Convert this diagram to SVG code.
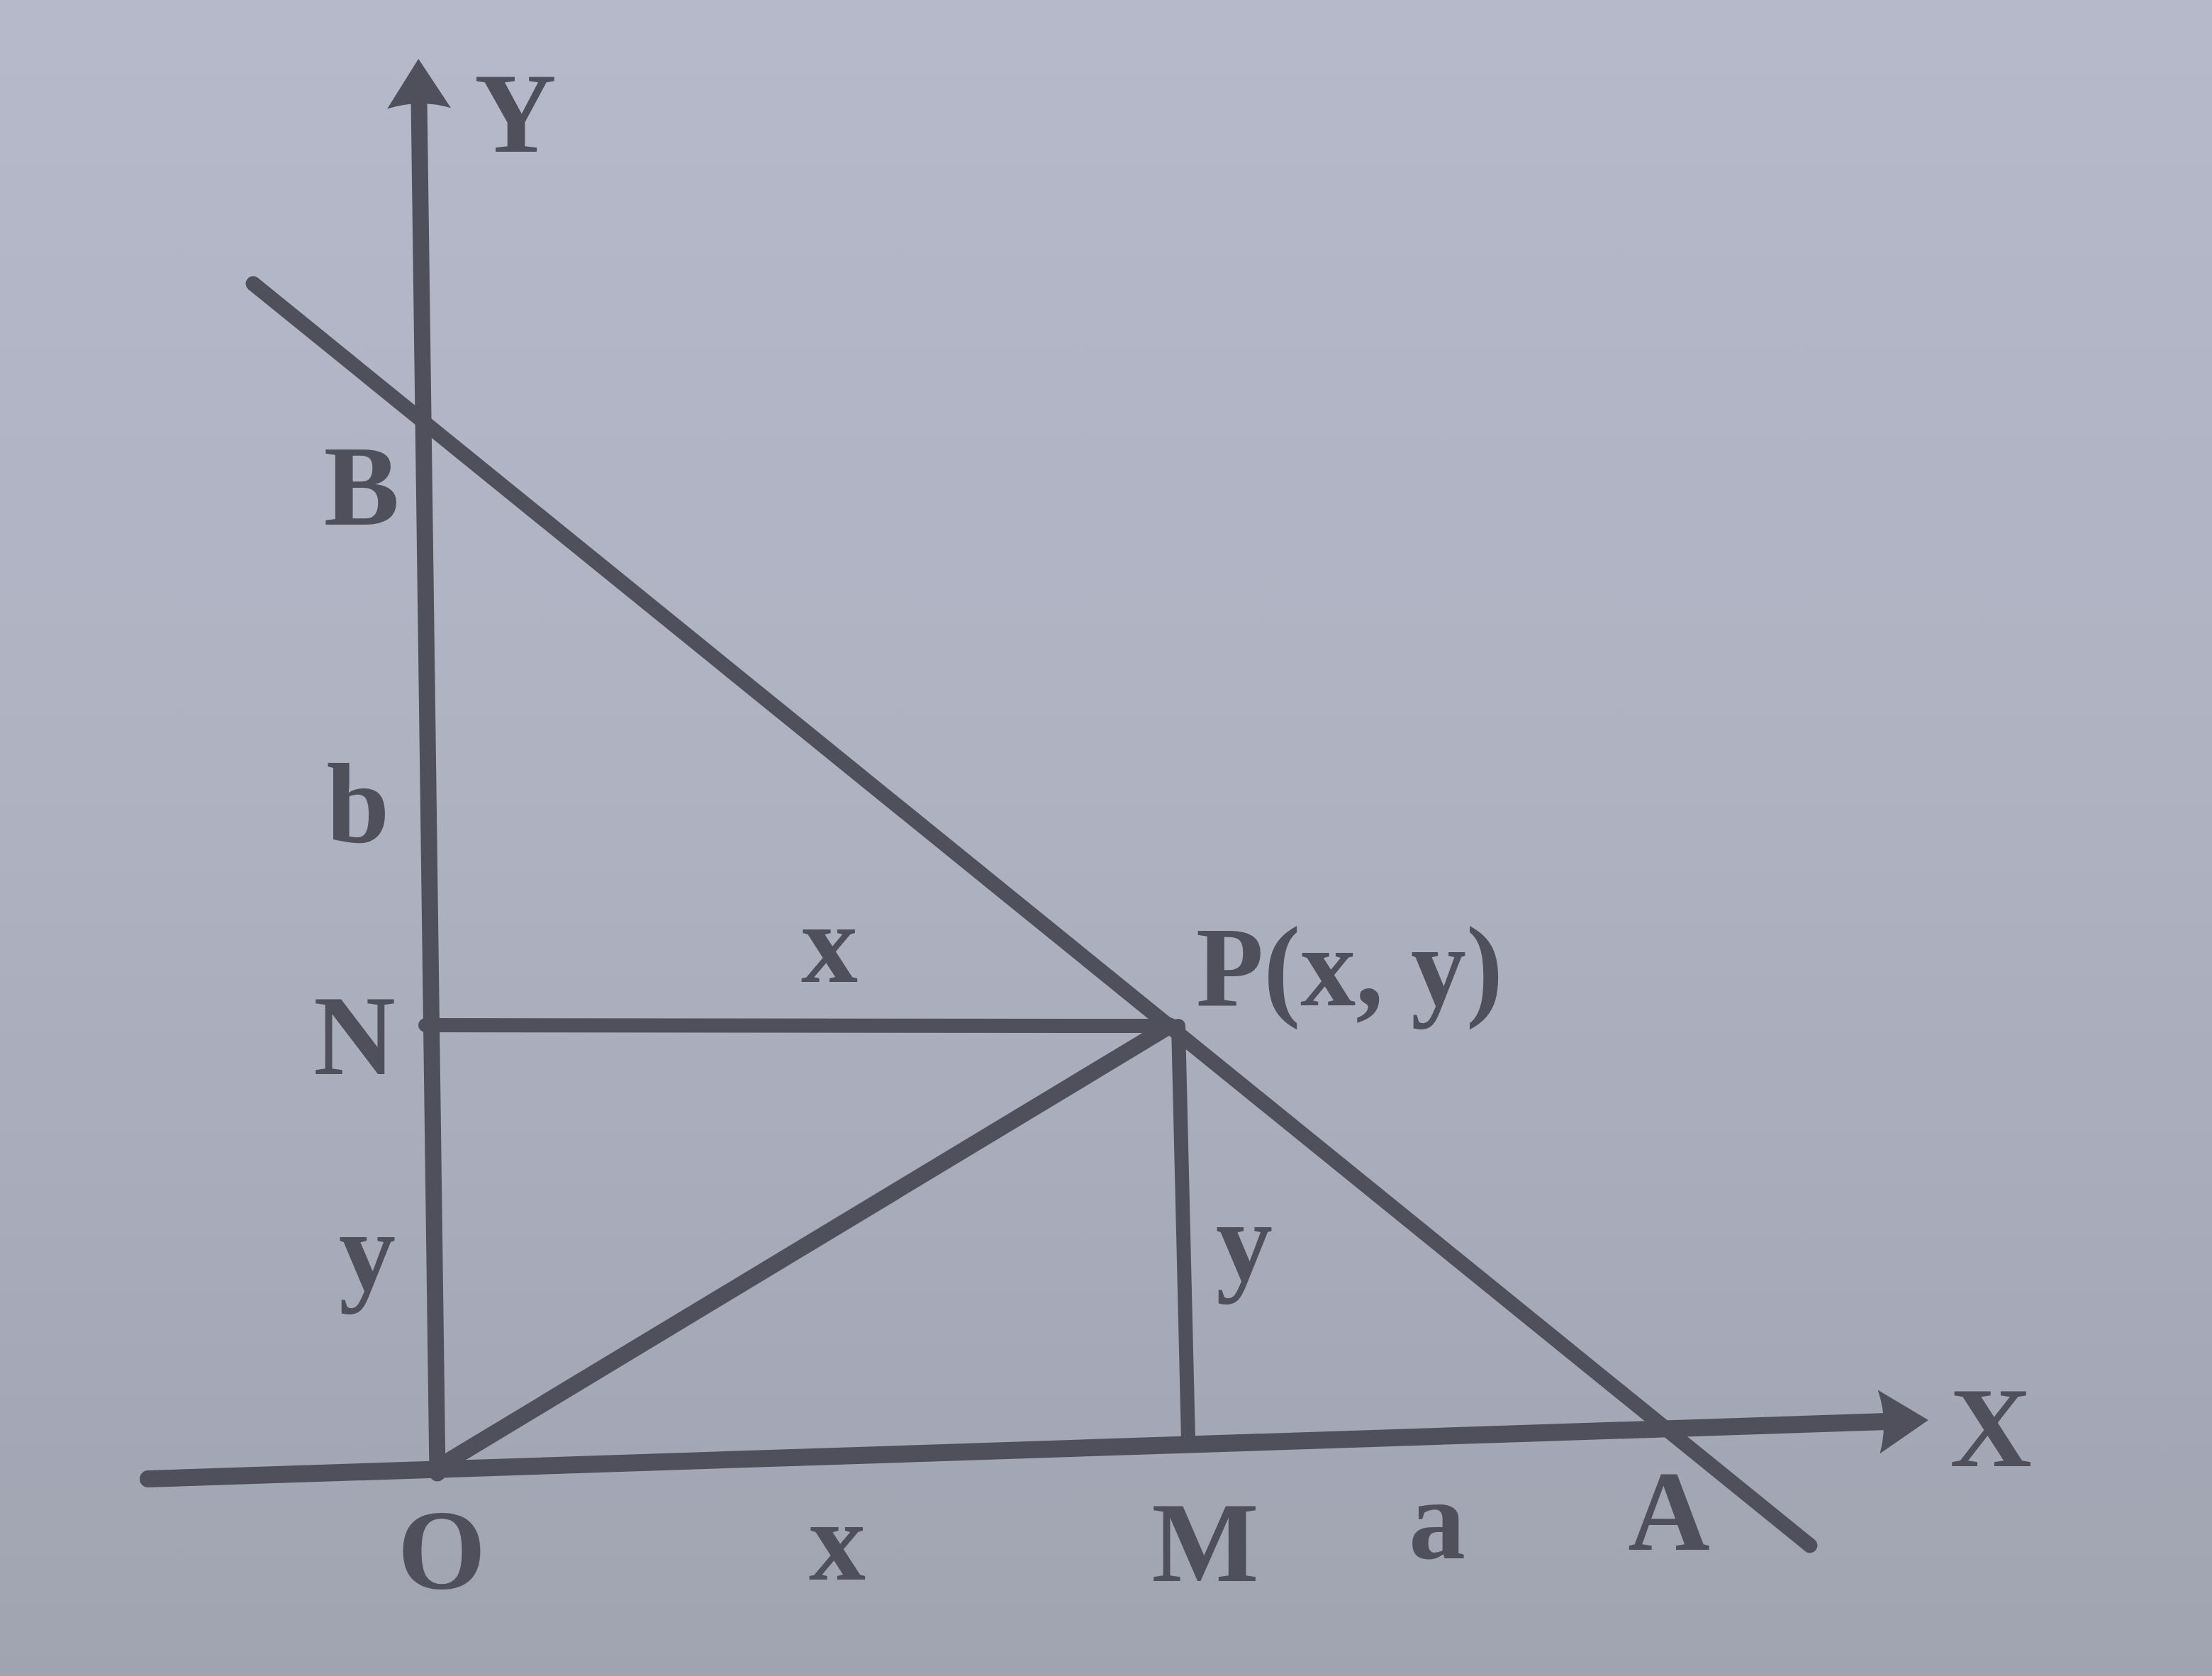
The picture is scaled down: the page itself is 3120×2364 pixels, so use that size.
<svg xmlns="http://www.w3.org/2000/svg" width="3120" height="2364" viewBox="0 0 3120 2364">
  <defs>
    <linearGradient id="bg" x1="0" y1="0" x2="0" y2="1">
      <stop offset="0" stop-color="#b6b9c9"/>
      <stop offset="0.5" stop-color="#aeb1c0"/>
      <stop offset="1" stop-color="#a0a3b0"/>
    </linearGradient>
    <marker id="arrow" viewBox="0 0 70 90" refX="12" refY="45" markerWidth="70" markerHeight="90" markerUnits="userSpaceOnUse" orient="auto">
      <path d="M0,0 L70,45 L0,90 Q14,45 0,0 Z" fill="#50505c"/>
    </marker>
    <style>
      .ln { stroke: #50505c; stroke-linecap: round; fill: none; }
      .lbl { font-family: "Liberation Serif", "Times New Roman", serif; font-weight: bold; font-size: 160px; fill: #50505c; text-anchor: middle; }
      .lbl-start { font-family: "Liberation Serif", "Times New Roman", serif; font-weight: bold; font-size: 160px; fill: #50505c; text-anchor: start; }
    </style>
  </defs>
  <rect x="0" y="0" width="3120" height="2364" fill="url(#bg)"/>

  <g id="connectors">
    <line id="y-axis" class="ln" x1="617" y1="2078" x2="591" y2="141" stroke-width="23" marker-end="url(#arrow)"/>
    <line id="x-axis" class="ln" x1="209" y1="2086" x2="2662" y2="2005" stroke-width="24" marker-end="url(#arrow)"/>
    <line id="line-AB" class="ln" x1="357" y1="400" x2="2553" y2="2180" stroke-width="21"/>
    <line id="NP" class="ln" x1="600" y1="1446" x2="1650" y2="1447" stroke-width="20"/>
    <line id="OP" class="ln" x1="617" y1="2070" x2="1650" y2="1447" stroke-width="23"/>
    <line id="PM" class="ln" x1="1662" y1="1447" x2="1676" y2="2030" stroke-width="20"/>
  </g>

  <g id="node-Y"><text class="lbl" x="727" y="214">Y</text></g>
  <g id="node-B"><text class="lbl" x="510" y="740">B</text></g>
  <g id="label-b"><text class="lbl" x="505" y="1188">b</text></g>
  <g id="node-N"><text class="lbl" x="500" y="1515">N</text></g>
  <g id="label-y-left"><text class="lbl" x="518" y="1820">y</text></g>
  <g id="node-O"><text class="lbl" x="623" y="2240">O</text></g>
  <g id="label-x-bottom"><text class="lbl" x="1181" y="2228">x</text></g>
  <g id="node-M"><text class="lbl" x="1700" y="2230">M</text></g>
  <g id="label-a"><text class="lbl" x="2027" y="2198">a</text></g>
  <g id="node-A"><text class="lbl" x="2354" y="2186">A</text></g>
  <g id="node-X"><text class="lbl" x="2808" y="2068">X</text></g>
  <g id="label-x-top"><text class="lbl" x="1170" y="1385">x</text></g>
  <g id="node-P"><text class="lbl-start" x="1687" y="1418" textLength="433" lengthAdjust="spacingAndGlyphs">P(x, y)</text></g>
  <g id="label-y-right"><text class="lbl" x="1755" y="1806">y</text></g>
</svg>
